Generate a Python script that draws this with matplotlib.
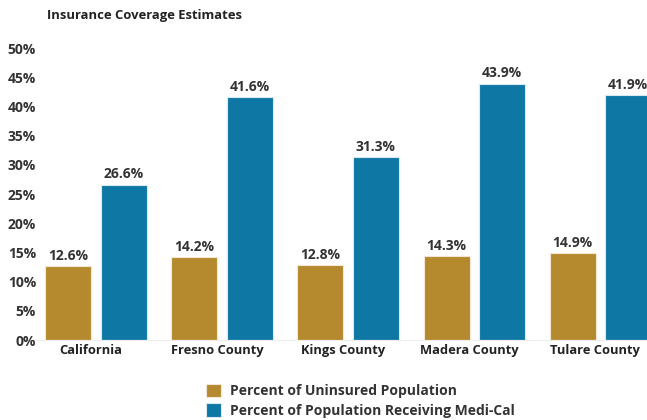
import matplotlib.pyplot as plt
import numpy as np

plt.rcParams['font.family'] = ['Open Sans', 'DejaVu Sans']

counties = ['California', 'Fresno County', 'Kings County', 'Madera County', 'Tulare County']
uninsured = [12.6, 14.2, 12.8, 14.3, 14.9]
medical = [26.6, 41.6, 31.3, 43.9, 41.9]
yticks = [0, 5, 10, 15, 20, 25, 30, 35, 40, 45, 50]

gold = '#B58A2E'
blue = '#0E77A3'
textc = '#333333'

fig = plt.figure(figsize=(6.47, 4.2), dpi=100)
ax = fig.add_axes([36 / 647, 80 / 420, 611 / 647, 292 / 420])

x = np.arange(len(counties))
off = 0.22
w = 0.365
b1 = ax.bar(x - off, uninsured, w, color=gold, edgecolor='#F2E8D5', linewidth=0.8,
            label='Percent of Uninsured Population')
b2 = ax.bar(x + off, medical, w, color=blue, edgecolor='#D8E9F0', linewidth=0.8,
            label='Percent of Population Receiving Medi-Cal')

for bars, vals in [(b1, uninsured), (b2, medical)]:
    for r, v in zip(bars, vals):
        ax.annotate('{:.1f}%'.format(v), (r.get_x() + r.get_width() / 2, v),
                    xytext=(0, 2.5), textcoords='offset points', ha='center', va='bottom',
                    fontsize=10, fontweight='bold', color=textc)

ax.set_xlim(-0.476, 4.37)
ax.set_ylim(0, 50)
ax.set_yticks(yticks)
ax.set_yticklabels(['{}%'.format(t) for t in yticks], fontsize=10, fontweight='bold', color=textc)
ax.set_xticks(x - 0.04)
ax.set_xticklabels(counties, fontsize=9.3, fontweight='bold', color='#222222')
ax.tick_params(axis='y', length=0, pad=0)
ax.tick_params(axis='x', length=0, pad=3)
for s in ['top', 'right', 'left']:
    ax.spines[s].set_visible(False)
ax.spines['bottom'].set_color('#EEEEEE')

fig.text(47 / 647, 1 - 15 / 420, 'Insurance Coverage Estimates', fontsize=9.4,
         fontweight='bold', color='#222222', va='center')

fig.legend(handles=[b1, b2], loc='upper left', bbox_to_anchor=(193 / 647, 1 - 371 / 420),
           frameon=False, prop={'weight': 'bold', 'size': 10}, labelcolor='#333333',
           handlelength=1.1, handleheight=1.1, handletextpad=0.7, labelspacing=0.4)

plt.savefig('out.png', dpi=100)
